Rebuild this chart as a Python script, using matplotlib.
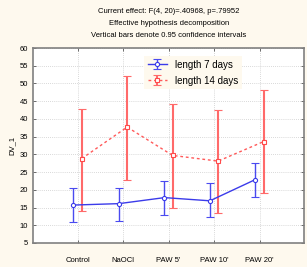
import matplotlib
matplotlib.use("Agg")
import matplotlib.pyplot as plt
import numpy as np

# Категорії та значення (середні, межі 95% довірчих інтервалів)
groups = ["Control", "NaOCl", "PAW 5'", "PAW 10'", "PAW 20'"]
mean_7 = [15.7, 16.1, 17.8, 16.9, 22.9]
low_7 = [11.0, 11.2, 13.0, 12.2, 18.1]
high_7 = [20.4, 20.6, 22.4, 21.8, 27.6]
mean_14 = [28.8, 37.7, 29.7, 28.1, 33.6]
low_14 = [13.9, 22.8, 14.8, 13.4, 19.0]
high_14 = [42.9, 52.2, 44.2, 42.6, 48.1]

plt.rcParams['font.family'] = ['Liberation Sans', 'DejaVu Sans']

bg = '#fef9ee'
fig = plt.figure(figsize=(3.07, 2.67), dpi=100, facecolor=bg)
ax = fig.add_axes([0.1075, 0.09, 0.883, 0.73])

x = np.arange(len(groups))
off = 0.09

m7 = np.array(mean_7)
m14 = np.array(mean_14)
err7 = [m7 - np.array(low_7), np.array(high_7) - m7]
err14 = [m14 - np.array(low_14), np.array(high_14) - m14]

ax.errorbar(x - off, m7, yerr=err7, color='#3b3bea', ecolor='#4a4af0', lw=1.0,
            elinewidth=1.0, capsize=3, capthick=1.0, marker='o', ms=3,
            mfc='white', mec='#3b3bea', mew=0.8, label='length 7 days')
ax.errorbar(x + off, m14, yerr=err14, color='#ff5a5a', ecolor='#ff6a6a', lw=1.0,
            ls=(0, (2, 2)), elinewidth=1.5, capsize=3, capthick=1.5, marker='s',
            ms=3, mfc='white', mec='#ff4a4a', mew=0.8, label='length 14 days')

ax.set_xlim(-0.98, 4.98)
ax.set_ylim(5, 60)
ax.set_yticks(range(5, 61, 5))
ax.set_xticks(x)
ax.set_xticklabels(groups)
ax.tick_params(labelsize=5.5, direction='in', length=2, width=0.6,
               top=True, right=True, colors='#555555', labelcolor='black')
ax.tick_params(axis='x', pad=10)
ax.grid(True, ls=(0, (1, 1.5)), color='#cccccc', lw=0.6)
for s in ax.spines.values():
    s.set_color('#808080')
    s.set_linewidth(1.2)
ax.set_ylabel('DV_1', fontsize=5.5, labelpad=3)

fig.text(0.55, 0.957, 'Current effect: F(4, 20)=.40968, p=.79952', ha='center', va='center', fontsize=5.5)
fig.text(0.55, 0.912, 'Effective hypothesis decomposition', ha='center', va='center', fontsize=5.5)
fig.text(0.55, 0.867, 'Vertical bars denote 0.95 confidence intervals', ha='center', va='center', fontsize=5.5)

leg = ax.legend(loc='upper center', bbox_to_anchor=(0.59, 0.985), fontsize=7,
                frameon=True, facecolor=bg, edgecolor='none', fancybox=False,
                handlelength=2.0, borderpad=0.4, labelspacing=0.6)
leg.get_frame().set_alpha(1)

fig.savefig('out.png', dpi=100, facecolor=bg)
